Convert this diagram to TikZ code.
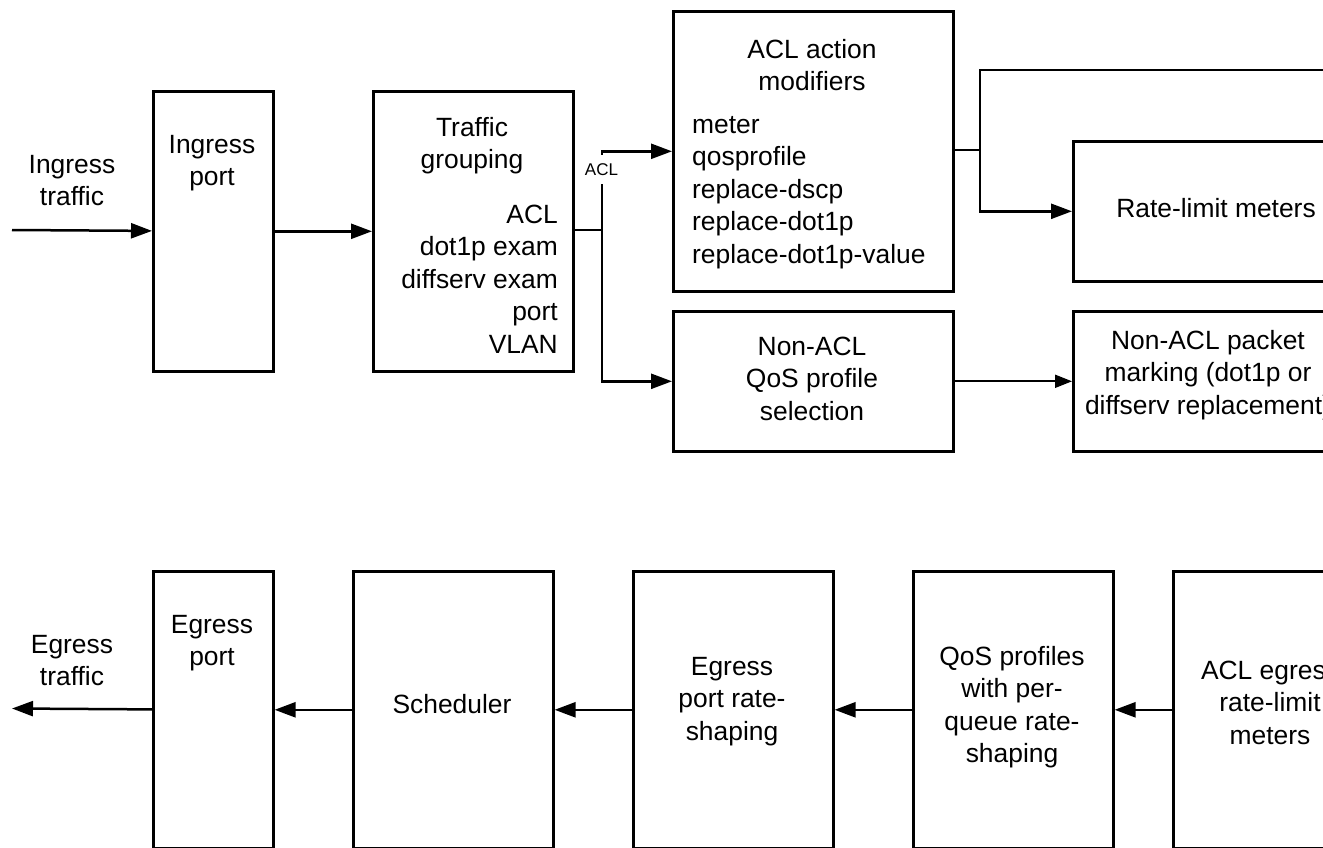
\documentclass[tikz,border=0pt]{standalone}
\usepackage{fontspec}
\setmainfont{Liberation Sans}
\usetikzlibrary{arrows.meta}
\begin{document}
\begin{tikzpicture}[x=1pt,y=-1pt,
  box/.style={draw,line width=2.6pt,rectangle,inner sep=0pt,anchor=north west},
  txt/.style={font=\fontsize{26.4}{32.5}\selectfont,align=center,inner sep=0pt,anchor=north},
  conn/.style={line width=2.5pt},
  arr/.style={conn,-{Triangle[length=21pt,width=15pt]}},
  thinarr/.style={line width=1.8pt,-{Triangle[length=17pt,width=13pt]}}]
\useasboundingbox (0,0) rectangle (1323,848);
\clip (0,0) rectangle (1323,848);

% boxes (top row)
\node[box,minimum width=120pt,minimum height=280pt] (ip) at (152,90) {};
\node[box,minimum width=200pt,minimum height=280pt] (tg) at (372,90) {};
\node[box,minimum width=280pt,minimum height=280pt] (acl) at (672,10) {};
\node[box,minimum width=280pt,minimum height=140pt] (nq) at (672,310) {};
\node[box,minimum width=280pt,minimum height=140pt] (rl) at (1072,140) {};
\node[box,minimum width=280pt,minimum height=140pt] (nm) at (1072,310) {};
% boxes (bottom row)
\node[box,minimum width=120pt,minimum height=277pt] (ep) at (152,570) {};
\node[box,minimum width=200pt,minimum height=277pt] (sch) at (352,570) {};
\node[box,minimum width=200pt,minimum height=277pt] (ers) at (632,570) {};
\node[box,minimum width=200pt,minimum height=277pt] (qp) at (912,570) {};
\node[box,minimum width=200pt,minimum height=277pt] (ae) at (1172,570) {};

% coordinates
\coordinate (tin) at (12,230);
\coordinate (j1) at (602,230);
\coordinate (j2) at (980,150);
\coordinate (offr) at (1340,70);
\coordinate (tout) at (12,708.5);

% connectors top
\draw[arr] (tin) -- (ip);
\draw[arr] (ip) -- (tg);
\draw[conn] (tg.east |- j1) -- (j1);
\draw[arr] (j1) |- (acl.west);
\draw[arr] (j1) |- (nq.west);
\draw[conn] (acl.east |- j2) -- (j2);
\draw[arr] (j2) |- (rl.west);
\draw[conn] (j2) |- (offr);
\draw[thinarr] (nq) -- (nm);
\node[font=\fontsize{17}{20}\selectfont,fill=white,inner xsep=1pt,inner ysep=8pt,text height=12.2pt,text depth=0pt] (acllab) at (601.5,169.5) {ACL};

% connectors bottom
\draw[arr] (ae) -- (qp);
\draw[arr] (qp) -- (ers);
\draw[arr] (ers) -- (sch);
\draw[arr] (sch) -- (ep);
\draw[arr] (ep) -- (tout);

% texts top
\node[txt] (tintxt) at (72,150.25) {\strut Ingress\\traffic};
\node[txt] (iptxt) at (212,130.25) {\strut Ingress\\port};
\node[txt] (tgtitle) at (472,113.25) {\strut Traffic\\grouping};
\node[txt,align=right,anchor=north east] (tglist) at (558,200.25) {\strut ACL\\dot1p exam\\diffserv exam\\port\\VLAN};
\node[txt] (acltitle) at (812,35.25) {\strut ACL action\\modifiers};
\node[txt,align=left,anchor=north west] (acllist) at (692,110.25) {\strut meter\\qosprofile\\replace-dscp\\replace-dot1p\\replace-dot1p-value};
\node[txt,anchor=base] (rltxt) at (1216,217) {Rate-limit meters};
\node[txt] (nqtxt) at (812,332.25) {\strut Non-ACL\\QoS profile\\selection};
\node[txt] (nmtxt) at (1208,326.25) {\strut Non-ACL packet\\marking (dot1p or\\diffserv replacement)};

% texts bottom
\node[txt] (touttxt) at (72,630.25) {\strut Egress\\traffic};
\node[txt] (eptxt) at (212,610.25) {\strut Egress\\port};
\node[txt,anchor=base] (schtxt) at (452,713) {Scheduler};
\node[txt] (erstxt) at (732,652.25) {\strut Egress\\port rate-\\shaping};
\node[txt] (qptxt) at (1012,642.25) {\strut QoS profiles\\with per-\\queue rate-\\shaping};
\node[txt] (aetxt) at (1270,656.25) {\strut ACL egress\\rate-limit\\meters};
\end{tikzpicture}
\end{document}
